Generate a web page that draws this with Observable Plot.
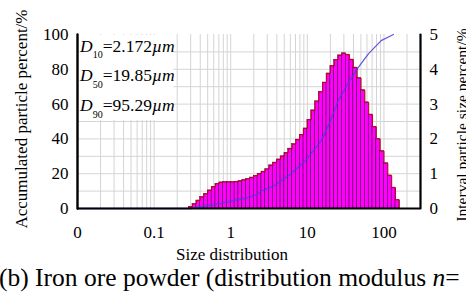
<!DOCTYPE html>
<html><head><meta charset="utf-8">
<script src="https://cdn.jsdelivr.net/npm/d3@7"></script>
<script src="https://cdn.jsdelivr.net/npm/@observablehq/plot@0.6"></script>
<style>
html,body{margin:0;padding:0;background:#fff;}
body{width:466px;height:296px;overflow:hidden;position:relative;font-family:"Liberation Serif","Times New Roman",serif;}
#cap{position:absolute;left:-1px;top:264px;font-size:25.5px;line-height:28px;white-space:nowrap;color:#000;}
</style></head>
<body><div id="chart"></div><div id="cap">(b) Iron ore powder (distribution modulus <i>n</i>=</div>
<script>
// Bin edges (µm) of the size classes
const binEdges = [0.283, 0.317, 0.356, 0.399, 0.448, 0.502, 0.564, 0.632, 0.710, 0.796, 0.893, 1.002, 1.125, 1.262, 1.416, 1.589, 1.783, 2.000, 2.244, 2.518, 2.825, 3.170, 3.557, 3.991, 4.477, 5.024, 5.637, 6.325, 7.096, 7.962, 8.934, 10.024, 11.247, 12.619, 14.159, 15.887, 17.825, 20.000, 22.440, 25.179, 28.251, 31.698, 35.566, 39.905, 44.774, 50.238, 56.368, 63.246, 70.963, 79.621, 89.337, 100.237, 112.468, 126.191, 141.589, 158.866];
// Interval particle size percent (%) for each bin
const intervalPct = [0.05, 0.13, 0.23, 0.33, 0.42, 0.52, 0.62, 0.71,
  0.75, 0.76, 0.76, 0.76, 0.77,
  0.79, 0.82, 0.85, 0.89, 0.94, 1.00, 1.06, 1.13,
  1.24, 1.32, 1.41, 1.50, 1.60, 1.72, 1.85, 1.98, 2.12,
  2.30, 2.55, 2.82, 3.08, 3.35, 3.62, 3.88,
  4.10, 4.27, 4.40, 4.46, 4.42, 4.28, 4.05,
  3.75, 3.40, 3.05, 2.70, 2.35, 2.00, 1.65, 1.30, 0.95, 0.60, 0.25];
// Accumulated particle percent curve
const cumSize = [0.01, 0.30, 0.40, 0.75, 1.1, 1.6, 2.2, 2.5, 3.7, 6.1, 9.7, 15.2, 19.9, 25.3, 34, 46, 63, 92, 133];
const cumPct  = [0, 0, 1, 3, 4.6, 6, 8, 10, 13, 20, 28, 39, 50, 62, 72, 81, 89, 96.5, 100];
// Axes
const xDomain = [0.01, 300];
const yDomain = [0, 100];
const xTicks = [0.01, 0.1, 1, 10, 100];
const xTickLabels = ["0", "0.1", "1", "10", "100"];
const xGrid = [0.02,0.03,0.04,0.05,0.06,0.07,0.08,0.09,0.1,0.2,0.3,0.4,0.5,0.6,0.7,0.8,0.9,1,2,3,4,5,6,7,8,9,10,20,30,40,50,60,70,80,90,100,200];
const leftTicks = [0, 20, 40, 60, 80, 100];
const rightTicks = [0, 1, 2, 3, 4, 5];
const yGrid = [10, 20, 30, 40, 50, 60, 70, 80, 90];
const dLabels = [["10", "2.172"], ["50", "19.85"], ["90", "95.29"]];

const ratio = 100 / 5; // right axis (0–5) mapped onto left axis (0–100)
const bins = intervalPct.map((v, i) => ({lo: binEdges[i], hi: binEdges[i + 1], v}));
const step = binEdges.map((e, i) => ({x: e, v: i < intervalPct.length ? intervalPct[i] : 0}));
step.push({x: xDomain[1], v: 0});
const cum = cumSize.map((s, i) => ({s, p: cumPct[i]}));
const xLabelOf = new Map(xTicks.map((t, i) => [t, xTickLabels[i]]));
const leftEdge = yDomain.map(y => ({x: xDomain[0], y}));
const rightEdge = yDomain.map(y => ({x: xDomain[1], y}));

const font = `"Liberation Serif","Times New Roman",serif`;
const svg = Plot.plot({
  width: 466, height: 266,
  marginLeft: 77, marginRight: 46, marginTop: 34, marginBottom: 58,
  style: {fontFamily: font, fontSize: "17px", color: "#000", background: "#fff"},
  x: {type: "log", domain: xDomain, axis: null},
  y: {domain: yDomain, axis: null},
  marks: [
    Plot.gridX(xGrid, {stroke: "#d4d4d4", strokeOpacity: 1, strokeWidth: 1}),
    Plot.gridY(yGrid, {stroke: "#d4d4d4", strokeOpacity: 1, strokeWidth: 1}),
    Plot.rectY(bins, {x1: "lo", x2: "hi", y: d => d.v * ratio, fill: "#ff00ff", stroke: "#220014", strokeWidth: 0.45}),
    Plot.line(step, {x: "x", y: d => d.v * ratio, curve: "step-after", stroke: "#c0001a", strokeWidth: 1}),
    Plot.line(cum, {x: "s", y: "p", stroke: "#4a40d8", strokeWidth: 1.3, strokeOpacity: 0.85}),
    Plot.ruleY([0], {stroke: "#000", strokeWidth: 2}),
    Plot.line(leftEdge, {x: "x", y: "y", stroke: "#000", strokeWidth: 2.4}),
    Plot.line(rightEdge, {x: "x", y: "y", stroke: "#000", strokeWidth: 2.2}),
    Plot.axisY(leftTicks, {anchor: "left", tickSize: 0, tickPadding: 9, fontSize: 17, label: null}),
    Plot.axisY(rightTicks.map(t => t * ratio), {anchor: "right", tickSize: 0, tickPadding: 9, fontSize: 17, label: null, tickFormat: d => String(d / ratio)}),
    Plot.axisX(xTicks, {anchor: "bottom", tickSize: 0, tickPadding: 17, fontSize: 17, label: null, tickFormat: d => xLabelOf.get(d)})
  ]
});
document.getElementById("chart").appendChild(svg);

const s = d3.select(svg);
// annotation box
const g = s.append("g").attr("font-family", font).attr("fill", "#000").attr("text-anchor", "start");
g.append("rect").attr("x", 79).attr("y", 35).attr("width", 94.5).attr("height", 85).attr("fill", "#fff");
dLabels.forEach(([sub, val], i) => {
  const t = g.append("text").attr("x", 80).attr("y", 51.7 + i * 29.7).attr("font-size", 17.5).attr("text-anchor", "start");
  t.append("tspan").attr("font-style", "italic").text("D");
  t.append("tspan").attr("font-size", 10).attr("dy", 6.5).text(sub);
  t.append("tspan").attr("dy", -6.5).text("=" + val);
  t.append("tspan").attr("font-style", "italic").text("µm");
});
// axis titles
s.append("text").attr("font-family", font).attr("font-size", 17).attr("text-anchor", "middle")
  .attr("transform", "translate(27,119) rotate(-90)").text("Accumulated particle percent/%");
s.append("text").attr("font-family", font).attr("font-size", 15.5).attr("text-anchor", "middle")
  .attr("transform", "translate(467,125) rotate(-90)").text("Interval particle size percent/%");
s.append("text").attr("font-family", font).attr("font-size", 17).attr("text-anchor", "middle")
  .attr("x", 232).attr("y", 260).text("Size distribution");
</script>
</body></html>
